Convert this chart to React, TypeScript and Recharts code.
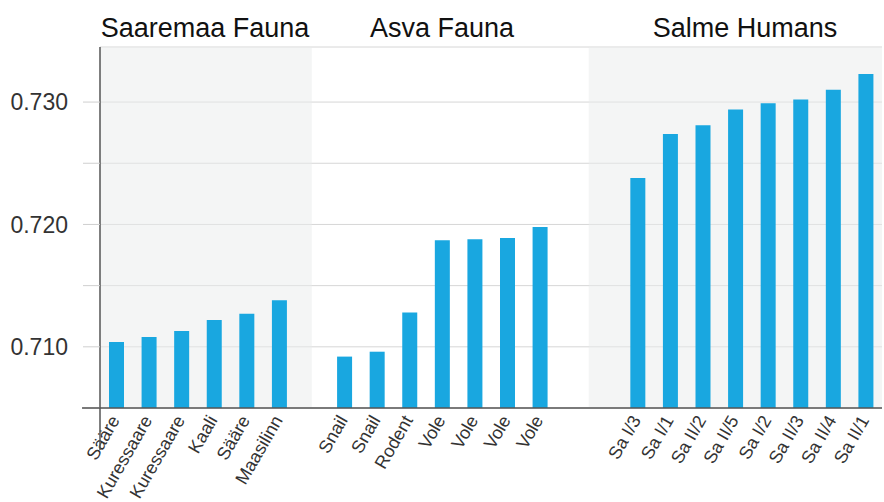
import { BarChart, Bar, XAxis, YAxis, CartesianGrid, ReferenceArea } from 'recharts';

const saaremaaLabels = ['Sääre', 'Kuressaare', 'Kuressaare', 'Kaali', 'Sääre', 'Maasilinn'];
const saaremaaValues = [0.7104, 0.7108, 0.7113, 0.7122, 0.7127, 0.7138];

const asvaLabels = ['Snail', 'Snail', 'Rodent', 'Vole', 'Vole', 'Vole', 'Vole'];
const asvaValues = [0.7092, 0.7096, 0.7128, 0.7187, 0.7188, 0.7189, 0.7198];

const salmeLabels = ['Sa I/3', 'Sa I/1', 'Sa II/2', 'Sa II/5', 'Sa I/2', 'Sa II/3', 'Sa II/4', 'Sa II/1'];
const salmeValues = [0.7238, 0.7274, 0.7281, 0.7294, 0.7299, 0.7302, 0.731, 0.7323];

const groupTitles = ['Saaremaa Fauna', 'Asva Fauna', 'Salme Humans'];
const yTicks = [0.705, 0.71, 0.715, 0.72, 0.725, 0.73];
const labelledTicks = [0.71, 0.72, 0.73];

const FONT = '"Liberation Sans", Arial, Helvetica, sans-serif';
const BAR_COLOR = '#19a7e0';
const AXIS_COLOR = '#555';

type Row = { name: string; value: number | null; slot?: number };

const gap = (n: number): Row[] => Array.from({ length: n }, () => ({ name: '', value: null }));
const group = (labels: string[], values: number[]): Row[] =>
  labels.map((name, i) => ({ name, value: values[i] }));

const data: Row[] = [
  ...group(saaremaaLabels, saaremaaValues),
  ...gap(1),
  ...group(asvaLabels, asvaValues),
  ...gap(2),
  ...group(salmeLabels, salmeValues),
].map((r, i) => ({ ...r, slot: i }));

const last = data.length - 1;

function AngledTick({ x, y, payload }: any) {
  if (!payload.value) return null;
  return (
    <g transform={`translate(${x + 4},${y + 12})`}>
      <text transform="rotate(-60)" textAnchor="end" fill="#333" fontSize={18} fontFamily={FONT}>
        {payload.value}
      </text>
    </g>
  );
}

export default function App() {
  return (
    <div style={{ position: 'absolute', left: 0, top: 0, width: 884, height: 502, background: '#fff' }}>
      <BarChart
        width={884}
        height={502}
        data={data}
        margin={{ top: 47, right: 2, bottom: 0, left: 0 }}
        barSize={15}
      >
        <XAxis xAxisId="bg" dataKey="slot" type="number" domain={[-0.5, last + 0.5]} allowDataOverflow hide />
        <ReferenceArea xAxisId="bg" x1={-0.5} x2={6} fill="#e9ecec" fillOpacity={0.5} stroke="none" ifOverflow="hidden" />
        <ReferenceArea xAxisId="bg" x1={14.5} x2={last + 0.5} fill="#e9ecec" fillOpacity={0.5} stroke="none" ifOverflow="hidden" />
        <CartesianGrid vertical={false} stroke="#d6d6d6" />
        <XAxis
          dataKey="name"
          interval={0}
          height={94}
          tickLine={false}
          tickSize={0}
          tickMargin={0}
          axisLine={{ stroke: AXIS_COLOR, strokeWidth: 1.5 }}
          tick={<AngledTick />}
        />
        <YAxis
          width={100}
          domain={[0.705, 0.7345]}
          ticks={yTicks}
          allowDataOverflow
          tickSize={17}
          tickMargin={15}
          tickLine={{ stroke: '#cfcfcf' }}
          axisLine={{ stroke: AXIS_COLOR, strokeWidth: 1.5 }}
          tickFormatter={(v: number) => (labelledTicks.some((t) => Math.abs(t - v) < 1e-9) ? v.toFixed(3) : '')}
          tick={{ fill: '#333', fontSize: 23, fontFamily: FONT }}
        />
        <Bar dataKey="value" fill={BAR_COLOR} isAnimationActive={false} />
      </BarChart>
      <svg width={884} height={502} style={{ position: 'absolute', left: 0, top: 0, pointerEvents: 'none' }}>
        {groupTitles.map((t, i) => (
          <text key={t} x={[205, 442, 745][i]} y={37} textAnchor="middle" fontSize={27} fill="#111" fontFamily={FONT}>
            {t}
          </text>
        ))}
        {/* axis lines run a little past the corner, as in the source figure */}
        <line x1={100} y1={408} x2={100} y2={450} stroke={AXIS_COLOR} strokeWidth={1.5} />
        <line x1={82} y1={408} x2={100} y2={408} stroke={AXIS_COLOR} strokeWidth={1.5} />
      </svg>
    </div>
  );
}
